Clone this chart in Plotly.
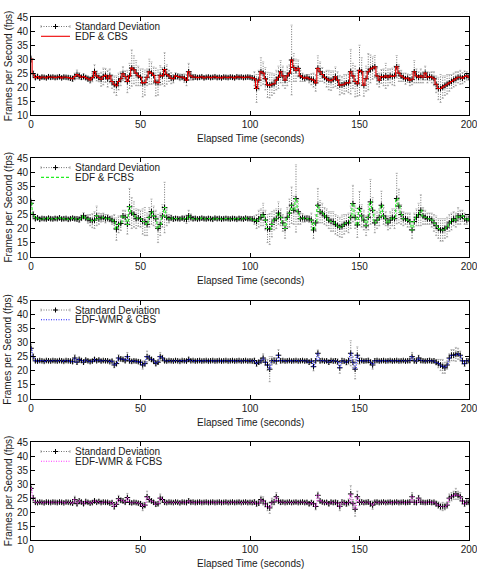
import plotly.graph_objects as go

W, H = 477, 575

# ---------------- data (1 sample per second, t = 0..200) ----------------
elapsed = list(range(201))
x_ticks = [0, 50, 100, 150, 200]
y_ticks = [10, 15, 20, 25, 30, 35, 40, 45]

cbs_mean = [
    30.0, 24.8, 23.4, 23.8, 23.2, 23.6, 23.5, 23.3, 23.7, 23.5,
    23.6, 23.4, 23.5, 23.7, 23.3, 23.6, 23.5, 23.4, 23.2, 23.0,
    23.8, 24.5, 24.0, 23.5, 23.8, 23.4, 23.0, 22.6, 23.4, 25.5,
    24.0, 23.4, 22.8, 23.8, 24.2, 23.0, 24.0, 22.0, 21.0, 20.5,
    22.0, 23.0, 24.8, 23.8, 22.0, 24.0, 26.8, 26.2, 25.0, 24.0,
    23.5, 21.5, 21.6, 23.5, 25.5, 25.0, 24.2, 21.8, 21.6, 24.2,
    24.0, 26.3, 24.5, 24.0, 23.2, 23.0, 24.0, 23.8, 23.5, 23.6,
    23.2, 22.5, 25.5, 24.0, 23.5, 23.6, 23.4, 23.5, 23.7, 23.3,
    23.5, 23.6, 23.4, 23.5, 23.7, 23.4, 23.5, 23.3, 23.6, 23.5,
    23.4, 23.6, 23.5, 23.3, 23.7, 23.5, 23.6, 23.4, 23.5, 23.6,
    23.5, 23.3, 23.0, 19.5, 22.5, 25.5, 25.0, 23.0, 20.8, 20.6,
    21.0, 21.2, 22.5, 23.5, 25.5, 24.0, 22.5, 24.0, 25.0, 29.7,
    27.0, 26.0, 26.7, 24.0, 23.5, 23.2, 23.5, 23.0, 22.8, 22.5,
    21.5, 26.7, 25.5, 24.5, 23.5, 23.0, 22.5, 22.3, 22.8, 23.7,
    22.5, 20.7, 20.8, 21.0, 21.5, 21.5, 25.5, 24.0, 22.0, 21.2,
    26.0, 25.5, 20.7, 23.0, 25.5, 26.5, 26.8, 27.3, 24.0, 22.5,
    23.8, 23.5, 24.0, 23.5, 24.0, 23.8, 24.0, 27.3, 25.0, 24.0,
    23.5, 23.0, 23.2, 22.5, 22.8, 25.5, 24.0, 23.5, 24.0, 23.5,
    25.0, 23.5, 23.8, 23.5, 23.0, 21.0, 19.5, 19.5, 20.0, 20.5,
    21.0, 21.5, 22.0, 22.5, 23.0, 23.5, 23.5, 23.2, 23.8, 24.0,
    23.5,
]
cbs_sd = [
    1.2, 1.0, 0.6, 0.6, 0.5, 0.6, 0.5, 0.6, 0.5, 0.6,
    0.5, 0.6, 0.5, 0.6, 0.5, 0.6, 0.5, 0.6, 0.8, 1.0,
    1.2, 1.6, 1.2, 0.8, 1.0, 0.8, 1.0, 1.2, 1.5, 2.5,
    1.8, 1.5, 2.5, 3.0, 2.5, 3.0, 2.5, 2.5, 3.0, 3.5,
    3.0, 2.5, 2.5, 2.0, 4.0, 4.5, 6.5, 5.0, 4.5, 3.5,
    3.0, 5.0, 4.5, 3.0, 4.5, 4.0, 3.0, 5.0, 4.5, 3.5,
    3.0, 6.0, 3.5, 2.0, 2.0, 1.5, 1.2, 1.0, 1.2, 1.0,
    1.5, 2.0, 3.0, 1.5, 1.0, 0.8, 0.6, 0.6, 0.5, 0.6,
    0.5, 0.6, 0.5, 0.6, 0.5, 0.6, 0.5, 0.6, 0.5, 0.6,
    0.5, 0.6, 0.5, 0.6, 0.5, 0.6, 0.5, 0.6, 0.5, 0.6,
    0.6, 0.8, 2.5, 5.0, 3.5, 5.0, 4.0, 4.0, 4.5, 4.5,
    4.0, 3.5, 3.5, 4.0, 4.0, 3.5, 3.0, 3.5, 3.0, 12.5,
    5.0, 4.0, 3.0, 2.0, 1.5, 1.2, 1.0, 1.5, 2.0, 2.5,
    3.0, 4.5, 3.5, 2.5, 2.0, 3.0, 3.5, 3.5, 3.0, 3.5,
    3.0, 3.5, 3.0, 3.5, 3.0, 3.5, 8.0, 4.5, 5.5, 4.5,
    9.0, 5.0, 4.0, 4.5, 6.5, 5.0, 4.0, 4.0, 3.0, 2.5,
    2.5, 3.0, 4.5, 3.0, 2.5, 3.0, 3.5, 4.0, 3.0, 2.0,
    1.5, 2.0, 1.5, 2.0, 2.0, 4.0, 2.5, 2.0, 2.5, 2.0,
    2.5, 2.0, 1.5, 2.0, 2.5, 3.0, 4.0, 5.0, 4.0, 3.5,
    3.5, 3.0, 2.5, 2.5, 2.5, 2.0, 2.5, 2.0, 2.0, 1.5,
    1.0,
]

fcbs_mean = [
    29.0, 25.0, 23.5, 23.8, 23.3, 23.6, 23.5, 23.4, 23.7, 23.5,
    23.4, 23.6, 23.5, 23.8, 23.4, 23.5, 23.6, 23.3, 23.5, 23.7,
    23.5, 23.4, 23.2, 23.8, 24.5, 23.8, 23.4, 23.0, 22.8, 23.0,
    24.5, 23.5, 23.8, 24.0, 23.5, 23.8, 23.4, 23.0, 22.5, 19.8,
    21.5, 21.8, 24.5, 24.0, 21.5, 27.8, 25.5, 25.0, 23.5, 23.8,
    23.5, 22.5, 22.5, 21.5, 24.0, 26.0, 24.5, 23.5, 20.0, 21.5,
    24.5, 27.5, 24.0, 23.5, 23.8, 23.4, 23.6, 23.5, 23.4, 23.7,
    23.5, 23.3, 24.5, 24.0, 23.5, 23.6, 23.4, 23.5, 23.7, 23.5,
    23.4, 23.6, 23.5, 23.3, 23.7, 23.5, 23.6, 23.4, 23.5, 23.6,
    23.5, 23.4, 23.6, 23.5, 23.3, 23.6, 23.5, 23.4, 23.7, 23.5,
    23.5, 23.4, 23.0, 22.5, 23.5, 24.0, 25.0, 23.0, 20.0, 19.8,
    21.5, 23.0, 23.5, 25.5, 24.0, 22.0, 20.0, 24.0, 25.5, 28.3,
    26.5, 30.7, 26.0, 23.5, 23.8, 23.5, 23.6, 23.4, 23.0, 19.5,
    22.0, 28.3, 26.0, 25.5, 24.5, 24.0, 23.0, 22.5, 22.5, 21.5,
    21.0, 20.5, 20.8, 21.5, 22.0, 22.0, 24.0, 28.9, 24.0, 21.3,
    27.2, 24.5, 23.0, 21.0, 24.0, 29.5, 26.5, 22.0, 23.0, 24.0,
    28.3, 24.5, 23.5, 22.0, 23.0, 24.0, 23.5, 30.7, 28.0, 25.0,
    23.5, 23.5, 23.0, 22.5, 19.5, 22.5, 24.0, 25.0, 26.5, 24.5,
    24.0, 23.5, 23.5, 23.0, 22.0, 21.0, 20.0, 19.5, 19.5, 20.0,
    20.5, 22.0, 22.5, 23.5, 23.0, 24.5, 24.0, 24.5, 23.5, 23.0,
    23.5,
]
fcbs_sd = [
    1.5, 1.0, 0.6, 0.5, 0.6, 0.5, 0.6, 0.5, 0.6, 0.5,
    0.5, 0.6, 0.5, 0.6, 0.5, 0.6, 0.5, 0.6, 0.5, 0.6,
    0.6, 0.8, 1.0, 1.0, 1.2, 1.0, 1.5, 2.0, 2.5, 3.0,
    3.5, 2.0, 1.5, 1.5, 1.5, 1.2, 1.0, 1.5, 2.5, 4.0,
    3.0, 2.5, 2.0, 2.5, 3.5, 6.5, 5.5, 4.5, 3.5, 3.0,
    3.0, 4.5, 5.0, 4.0, 3.5, 4.5, 3.5, 3.0, 5.0, 4.0,
    4.0, 9.0, 3.0, 1.5, 1.0, 0.8, 0.6, 0.6, 0.5, 0.6,
    1.0, 1.5, 2.0, 1.2, 0.8, 0.6, 0.5, 0.6, 0.5, 0.6,
    0.5, 0.6, 0.5, 0.6, 0.5, 0.6, 0.5, 0.6, 0.5, 0.6,
    0.5, 0.6, 0.5, 0.6, 0.5, 0.6, 0.5, 0.6, 0.5, 0.6,
    0.6, 0.8, 1.5, 2.5, 3.0, 3.0, 4.0, 3.5, 5.0, 5.5,
    4.5, 3.5, 3.5, 4.0, 3.0, 3.0, 3.5, 3.5, 5.0, 6.5,
    5.0, 12.0, 4.5, 2.0, 1.5, 1.2, 1.0, 1.2, 2.5, 3.0,
    3.0, 6.0, 4.0, 3.5, 3.0, 3.0, 3.0, 3.5, 3.5, 3.5,
    3.5, 3.5, 4.0, 3.5, 3.0, 3.5, 4.0, 6.5, 4.0, 4.5,
    6.0, 4.0, 3.5, 3.5, 4.5, 8.0, 4.5, 3.5, 3.0, 3.0,
    5.0, 3.0, 2.5, 2.5, 3.0, 3.0, 3.5, 9.0, 6.0, 3.5,
    2.5, 2.0, 2.5, 3.0, 3.0, 3.0, 3.0, 4.0, 5.5, 3.0,
    2.5, 2.0, 2.0, 2.5, 3.0, 3.5, 3.5, 4.0, 4.0, 3.5,
    3.5, 3.0, 3.0, 2.5, 2.5, 3.0, 2.5, 2.0, 2.0, 1.5,
    1.0,
]

wmr_cbs_mean = [
    28.0, 25.0, 23.5, 23.4, 23.6, 23.5, 23.3, 23.6, 23.5, 23.4,
    23.6, 23.5, 23.4, 23.6, 23.5, 23.3, 23.6, 23.5, 23.4, 23.2,
    24.5, 23.0, 24.0, 23.6, 23.0, 23.8, 23.5, 23.2, 23.4, 24.0,
    23.5, 23.8, 23.4, 23.6, 23.5, 23.5, 23.2, 23.4, 22.0, 22.5,
    24.5, 24.2, 24.0, 23.5, 25.0, 23.5, 23.3, 23.5, 23.4, 23.2,
    23.0, 22.0, 22.5, 25.0, 24.5, 24.0, 23.5, 22.5, 23.0, 25.0,
    24.5, 23.5, 23.4, 23.6, 23.5, 23.4, 23.6, 23.5, 23.3, 23.6,
    23.5, 23.4, 24.0, 23.5, 23.6, 23.4, 23.5, 23.6, 23.4, 23.5,
    23.6, 23.4, 23.5, 23.6, 23.4, 23.5, 23.6, 23.4, 23.5, 23.6,
    23.4, 23.5, 23.6, 23.4, 23.5, 23.6, 23.4, 23.5, 23.6, 23.4,
    23.5, 23.4, 23.6, 22.5, 23.0, 23.5, 24.5, 23.0, 22.0, 20.5,
    23.5, 23.6, 23.4, 25.5, 23.5, 23.6, 23.4, 23.5, 23.6, 23.4,
    23.5, 23.6, 23.4, 23.5, 23.6, 23.4, 23.5, 23.0, 23.4, 21.4,
    23.5, 26.2, 23.5, 23.6, 23.4, 23.5, 23.0, 23.6, 23.4, 23.5,
    23.2, 21.0, 23.5, 23.4, 23.0, 23.5, 26.2, 23.0, 20.5, 25.5,
    23.5, 23.6, 23.4, 23.5, 23.6, 23.0, 22.0, 23.5, 23.6, 23.4,
    23.5, 23.6, 23.4, 23.5, 23.6, 23.4, 23.5, 23.6, 23.4, 23.5,
    23.6, 23.4, 23.5, 23.6, 25.0, 23.5, 23.4, 24.5, 23.6, 23.5,
    23.4, 23.5, 23.6, 23.4, 23.5, 23.0, 22.5, 22.0, 21.5, 21.0,
    22.0, 24.5, 25.5, 25.5, 25.8, 26.0, 25.5, 23.5, 22.5, 23.5,
    23.5,
]
wmr_cbs_sd = [
    1.5, 1.0, 0.5, 0.4, 0.5, 0.4, 0.5, 0.4, 0.5, 0.4,
    0.5, 0.4, 0.5, 0.4, 0.5, 0.4, 0.5, 0.4, 0.5, 0.6,
    1.2, 0.8, 0.8, 0.6, 0.6, 0.5, 0.5, 0.6, 0.5, 0.6,
    0.5, 0.6, 0.5, 0.4, 0.5, 0.4, 0.5, 0.6, 1.0, 0.8,
    1.2, 0.8, 0.8, 0.6, 1.5, 0.8, 0.6, 0.5, 0.5, 0.6,
    0.8, 1.5, 1.0, 2.0, 1.0, 0.8, 0.6, 0.8, 0.8, 1.5,
    1.0, 0.6, 0.5, 0.4, 0.5, 0.4, 0.5, 0.4, 0.5, 0.4,
    0.5, 0.5, 0.8, 0.5, 0.4, 0.5, 0.4, 0.5, 0.4, 0.5,
    0.4, 0.5, 0.4, 0.5, 0.4, 0.5, 0.4, 0.5, 0.4, 0.5,
    0.4, 0.5, 0.4, 0.5, 0.4, 0.5, 0.4, 0.5, 0.4, 0.5,
    0.5, 0.6, 0.8, 1.0, 0.8, 1.0, 1.5, 1.2, 2.0, 4.5,
    1.5, 1.0, 1.2, 2.0, 0.8, 0.5, 0.4, 0.5, 0.4, 0.5,
    0.4, 0.5, 0.4, 0.5, 0.4, 0.5, 0.6, 0.8, 0.8, 1.5,
    0.8, 1.2, 0.8, 0.6, 0.5, 0.6, 0.8, 0.5, 0.6, 0.8,
    1.0, 2.0, 1.0, 0.8, 1.0, 1.2, 4.5, 2.0, 3.5, 3.0,
    1.2, 0.8, 0.6, 0.6, 0.8, 1.0, 1.5, 0.8, 0.6, 0.5,
    0.4, 0.5, 0.4, 0.5, 0.4, 0.5, 0.4, 0.5, 0.4, 0.5,
    0.4, 0.5, 0.6, 0.8, 1.5, 0.8, 0.6, 1.0, 0.8, 0.6,
    0.5, 0.6, 0.8, 0.6, 0.8, 1.0, 1.5, 2.0, 2.5, 2.0,
    1.5, 1.5, 2.0, 2.0, 2.5, 2.0, 1.5, 1.2, 1.0, 0.8,
    0.6,
]

wmr_fcbs_mean = [
    28.5, 25.0, 23.5, 23.4, 23.6, 23.5, 23.3, 23.6, 23.5, 23.4,
    23.6, 23.5, 23.4, 23.6, 23.5, 23.3, 23.6, 23.5, 23.4, 23.2,
    24.5, 23.0, 24.0, 23.6, 23.0, 23.8, 23.5, 23.2, 23.4, 24.0,
    23.5, 23.8, 23.4, 23.6, 23.5, 23.5, 23.2, 23.4, 22.0, 22.8,
    24.8, 24.2, 24.0, 23.5, 25.2, 23.5, 23.3, 23.5, 23.4, 23.2,
    23.0, 22.0, 22.5, 25.5, 24.5, 24.0, 23.5, 22.8, 23.0, 25.0,
    24.5, 23.5, 23.4, 23.6, 23.5, 23.4, 23.6, 23.5, 23.3, 23.6,
    23.5, 23.4, 24.0, 23.5, 23.6, 23.4, 23.5, 23.6, 23.4, 23.5,
    23.6, 23.4, 23.5, 23.6, 23.4, 23.5, 23.6, 23.4, 23.5, 23.6,
    23.4, 23.5, 23.6, 23.4, 23.5, 23.6, 23.4, 23.5, 23.6, 23.4,
    23.5, 23.4, 23.6, 23.0, 23.2, 24.5, 24.0, 23.0, 22.0, 21.5,
    23.5, 23.6, 25.5, 24.0, 23.5, 23.6, 23.4, 23.5, 23.6, 23.4,
    23.5, 23.6, 23.4, 23.5, 23.6, 23.4, 23.5, 23.0, 23.4, 23.0,
    22.0, 26.0, 24.0, 23.6, 23.4, 23.5, 23.0, 23.6, 23.4, 23.5,
    23.2, 22.0, 23.5, 23.4, 23.0, 23.5, 26.5, 23.0, 21.0, 25.5,
    23.5, 23.6, 23.4, 23.5, 23.6, 23.0, 22.5, 23.5, 23.6, 23.4,
    23.5, 23.6, 23.4, 23.5, 23.6, 23.4, 23.5, 23.6, 23.4, 23.5,
    23.6, 23.4, 23.5, 23.6, 25.5, 23.5, 23.4, 25.0, 23.6, 23.5,
    23.4, 23.5, 23.6, 23.4, 23.5, 23.0, 22.5, 22.0, 22.0, 22.0,
    22.5, 25.0, 25.5, 26.0, 26.5, 26.0, 25.5, 24.0, 23.0, 23.5,
    23.5,
]
wmr_fcbs_sd = [
    1.5, 1.0, 0.5, 0.4, 0.5, 0.4, 0.5, 0.4, 0.5, 0.4,
    0.5, 0.4, 0.5, 0.4, 0.5, 0.4, 0.5, 0.4, 0.5, 0.6,
    1.2, 0.8, 0.8, 0.6, 0.6, 0.5, 0.5, 0.6, 0.5, 0.6,
    0.5, 0.6, 0.5, 0.4, 0.5, 0.4, 0.5, 0.6, 1.0, 0.8,
    1.2, 0.8, 0.8, 0.6, 1.5, 0.8, 0.6, 0.5, 0.5, 0.6,
    0.8, 1.5, 1.0, 2.0, 1.0, 0.8, 0.6, 0.8, 0.8, 1.5,
    1.0, 0.6, 0.5, 0.4, 0.5, 0.4, 0.5, 0.4, 0.5, 0.4,
    0.5, 0.5, 0.8, 0.5, 0.4, 0.5, 0.4, 0.5, 0.4, 0.5,
    0.4, 0.5, 0.4, 0.5, 0.4, 0.5, 0.4, 0.5, 0.4, 0.5,
    0.4, 0.5, 0.4, 0.5, 0.4, 0.5, 0.4, 0.5, 0.4, 0.5,
    0.5, 0.6, 0.8, 1.0, 0.8, 1.2, 1.5, 1.2, 1.5, 2.0,
    1.5, 1.0, 1.5, 1.0, 0.8, 0.5, 0.4, 0.5, 0.4, 0.5,
    0.4, 0.5, 0.4, 0.5, 0.4, 0.5, 0.6, 0.8, 0.8, 1.0,
    1.2, 1.2, 0.8, 0.6, 0.5, 0.6, 0.8, 0.5, 0.6, 0.8,
    1.0, 1.5, 1.0, 0.8, 1.0, 1.2, 3.0, 1.5, 2.5, 2.0,
    1.2, 0.8, 0.6, 0.6, 0.8, 1.0, 1.5, 0.8, 0.6, 0.5,
    0.4, 0.5, 0.4, 0.5, 0.4, 0.5, 0.4, 0.5, 0.4, 0.5,
    0.4, 0.5, 0.6, 0.8, 1.5, 0.8, 0.6, 1.0, 0.8, 0.6,
    0.5, 0.6, 0.8, 0.6, 0.8, 1.0, 1.2, 1.2, 1.5, 1.2,
    1.2, 1.5, 1.5, 1.5, 2.0, 1.5, 1.5, 1.2, 1.0, 0.8,
    0.6,
]

series_names = ["EDF & CBS", "EDF & FCBS", "EDF-WMR & CBS", "EDF-WMR & FCBS"]
series_means = [cbs_mean, fcbs_mean, wmr_cbs_mean, wmr_fcbs_mean]
series_sds = [cbs_sd, fcbs_sd, wmr_cbs_sd, wmr_fcbs_sd]

# ---------------- styling / layout ----------------
line_styles = [("#ee0000", "solid"), ("#22ee22", "3px,2px"),
               ("#1a1aff", "1px,1.5px"), ("#ff33ff", "1px,1.5px")]
panel_px = [(17.3, 115.0), (158.4, 256.6), (300.8, 398.5), (442.3, 540.0)]  # top, bottom in px
x_px = (31.0, 469.0)
FONT = "Liberation Sans, Arial, sans-serif"
TXT = "#1a1a1a"
ERR_COLOR = "#707070"
ERR_DASH = "1px,1.5px"

def py(v):  # pixel row -> paper y
    return 1 - v / H

def pxx(v):  # pixel column -> paper x
    return v / W

fig = go.Figure()
layout = dict(
    width=W, height=H, margin=dict(l=0, r=0, t=0, b=0, autoexpand=False),
    paper_bgcolor="white", plot_bgcolor="white", showlegend=False,
    font=dict(family=FONT, size=10, color=TXT),
)
annotations, shapes = [], []

for i, (name, mean, sd) in enumerate(zip(series_names, series_means, series_sds)):
    k = "" if i == 0 else str(i + 1)
    xa, ya = "x" + k, "y" + k
    top, bot = panel_px[i]
    color, dash = line_styles[i]

    # error bars (dotted vertical) from mean +/- sd
    ex, ey, cx, cy = [], [], [], []
    for t, m, s in zip(elapsed, mean, sd):
        ex += [t, t, None]
        ey += [m - s, m + s, None]
        cx += [t - 0.5, t + 0.5, None, t - 0.5, t + 0.5, None]
        cy += [m - s, m - s, None, m + s, m + s, None]
    fig.add_trace(go.Scatter(x=ex, y=ey, mode="lines", xaxis=xa, yaxis=ya,
                             line=dict(color=ERR_COLOR, width=1, dash=ERR_DASH),
                             hoverinfo="skip"))
    fig.add_trace(go.Scatter(x=cx, y=cy, mode="lines", xaxis=xa, yaxis=ya,
                             line=dict(color="#a0a0a0", width=0.7), hoverinfo="skip"))
    fig.add_trace(go.Scatter(x=elapsed, y=mean, mode="markers", xaxis=xa, yaxis=ya,
                             marker=dict(symbol="cross-thin", size=4,
                                         line=dict(color="#000000", width=1))))
    fig.add_trace(go.Scatter(x=elapsed, y=mean, mode="lines", xaxis=xa, yaxis=ya,
                             line=dict(color=color, width=1.1, dash=dash, shape="hvh"),
                             name=name))

    layout["xaxis" + k] = dict(
        domain=[pxx(x_px[0]), pxx(x_px[1])], anchor=ya, range=[0, 200],
        tickmode="array", tickvals=x_ticks, ticks="inside", ticklen=4,
        tickcolor="black", showline=True, linecolor="black", linewidth=1,
        mirror="ticks", showgrid=False, zeroline=False,
        ticklabeloverflow="allow", automargin=False,
        tickfont=dict(family=FONT, size=10, color=TXT),
    )
    layout["yaxis" + k] = dict(
        domain=[py(bot), py(top)], anchor=xa, range=[10, 45],
        tickmode="array", tickvals=y_ticks, ticks="inside", ticklen=4,
        tickcolor="black", showline=True, linecolor="black", linewidth=1,
        mirror="ticks", showgrid=False, zeroline=False, automargin=False,
        tickfont=dict(family=FONT, size=10, color=TXT),
    )

    # axis titles
    annotations.append(dict(text="Elapsed Time (seconds)", xref="paper", yref="paper",
                            x=pxx((x_px[0] + x_px[1]) / 2), y=py(bot + 23.5),
                            showarrow=False, xanchor="center", yanchor="middle",
                            font=dict(family=FONT, size=10, color=TXT)))
    annotations.append(dict(text="Frames per Second (fps)", xref="paper", yref="paper",
                            x=pxx(8), y=py((top + bot) / 2), textangle=-90,
                            showarrow=False, xanchor="center", yanchor="middle",
                            font=dict(family=FONT, size=10, color=TXT)))

    # legend (key, top-left inside)
    r1, r2 = top + 9.2, top + 19.0
    lx0, lx1, lxm = 41, 70, 55.5
    shapes.append(dict(type="line", xref="paper", yref="paper",
                       x0=pxx(lx0), x1=pxx(lx1), y0=py(r1), y1=py(r1),
                       line=dict(color=ERR_COLOR, width=1, dash=ERR_DASH)))
    for xx in (lx0, lx1):
        shapes.append(dict(type="line", xref="paper", yref="paper",
                           x0=pxx(xx), x1=pxx(xx), y0=py(r1 - 1.5), y1=py(r1 + 1.5),
                           line=dict(color="#a0a0a0", width=0.8)))
    shapes.append(dict(type="line", xref="paper", yref="paper",
                       x0=pxx(lxm - 2.5), x1=pxx(lxm + 2.5), y0=py(r1), y1=py(r1),
                       line=dict(color="black", width=1)))
    shapes.append(dict(type="line", xref="paper", yref="paper",
                       x0=pxx(lxm), x1=pxx(lxm), y0=py(r1 - 2.5), y1=py(r1 + 2.5),
                       line=dict(color="black", width=1)))
    shapes.append(dict(type="line", xref="paper", yref="paper",
                       x0=pxx(lx0), x1=pxx(lx1), y0=py(r2), y1=py(r2),
                       line=dict(color=color, width=1.1, dash=dash)))
    annotations.append(dict(text="Standard Deviation", xref="paper", yref="paper",
                            x=pxx(74.5), y=py(r1), showarrow=False, xanchor="left",
                            yanchor="middle", borderpad=0, borderwidth=0,
                            font=dict(family=FONT, size=10, color=TXT)))
    annotations.append(dict(text=name, xref="paper", yref="paper",
                            x=pxx(74.5), y=py(r2), showarrow=False, xanchor="left",
                            yanchor="middle", borderpad=0, borderwidth=0,
                            font=dict(family=FONT, size=10, color=TXT)))

layout["annotations"] = annotations
layout["shapes"] = shapes
fig.update_layout(**layout)
fig.write_html("out.html")
